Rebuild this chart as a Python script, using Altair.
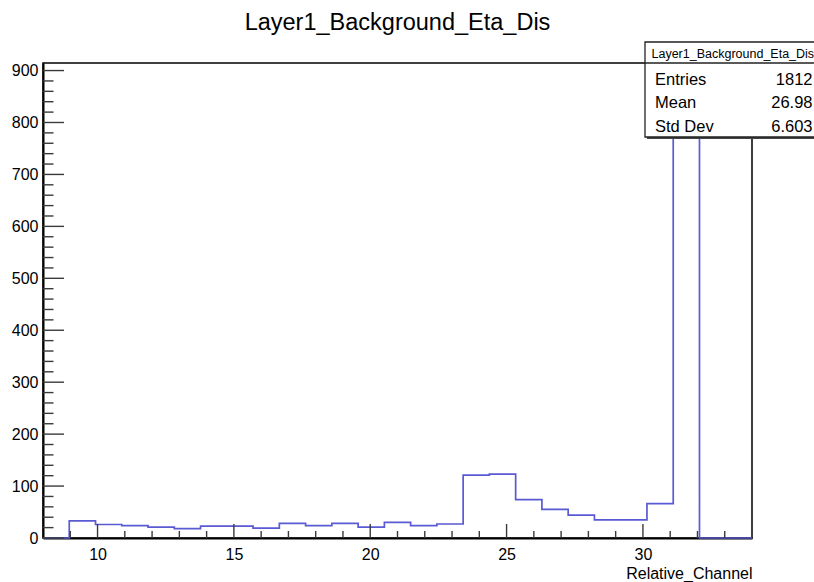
import altair as alt
import pandas as pd

# ---- data ----
chart_title = "Layer1_Background_Eta_Dis"
x_title = "Relative_Channel"
bin_edges = [8.0, 8.963, 9.926, 10.889, 11.852, 12.815, 13.778, 14.741, 15.704,
             16.667, 17.630, 18.593, 19.556, 20.519, 21.481, 22.444, 23.407,
             24.370, 25.333, 26.296, 27.259, 28.222, 29.185, 30.148, 31.111,
             32.074, 33.037, 34.0]
counts = [0, 33, 26, 24, 21, 18, 23, 23, 19, 28, 24, 28, 21, 30, 24, 27,
          121, 123, 74, 55, 44, 35, 35, 66, 871, 0, 0]
x_major = [10, 15, 20, 25, 30]
x_minor = [9, 11, 12, 13, 14, 16, 17, 18, 19, 21, 22, 23, 24, 26, 27, 28, 29, 31, 32, 33]
y_major = [0, 100, 200, 300, 400, 500, 600, 700, 800, 900]
y_minor = [20, 40, 60, 80, 120, 140, 160, 180, 220, 240, 260, 280, 320, 340, 360, 380,
           420, 440, 460, 480, 520, 540, 560, 580, 620, 640, 660, 680, 720, 740, 760, 780,
           820, 840, 860, 880]
stats_header = "Layer1_Background_Eta_Dis"
stats_labels = ["Entries", "Mean", "Std Dev"]
stats_values = ["1812", "26.98", "6.603"]

# ---- layout ----
W, H = 709, 475
FONT = "Liberation Sans"
LINE_COLOR = "#5a5ad4"
y_max = 1.05 * max(counts)

xscale = alt.Scale(domain=[bin_edges[0], bin_edges[-1]], nice=False, zero=False)
yscale = alt.Scale(domain=[0, y_max], nice=False, zero=False)

xaxis = alt.Axis(
    values=x_major, ticks=False, tickSize=0, grid=False, domain=True,
    domainColor="black", domainWidth=2, labelFont=FONT, labelFontSize=16,
    labelColor="black", labelPadding=8, labelFlush=False,
    title=x_title, titleFont=FONT, titleFontSize=16, titleFontWeight="normal",
    titleColor="black", titleAnchor="end", titleAlign="right", titleX=W,
    titleY=40, titleBaseline="alphabetic")
yaxis = alt.Axis(
    values=y_major, format="d", ticks=False, tickSize=0, grid=False, domain=True,
    domainColor="black", domainWidth=2, labelFont=FONT, labelFontSize=16,
    labelColor="black", labelPadding=5, labelFlush=False, title=None)

step_df = pd.DataFrame({"x": bin_edges, "y": counts + [counts[-1]]})

hist = alt.Chart(step_df).mark_line(
    interpolate="step-after", color=LINE_COLOR, strokeWidth=1.7
).encode(
    x=alt.X("x:Q", scale=xscale, axis=xaxis),
    y=alt.Y("y:Q", scale=yscale, axis=yaxis),
)

tick_color = "#3a3a3a"
xmaj = alt.Chart(pd.DataFrame({"x": x_major})).mark_rule(color=tick_color, strokeWidth=1.4).encode(
    x=alt.X("x:Q", scale=xscale, axis=xaxis), y=alt.value(H), y2=alt.value(H - 14))
xmin = alt.Chart(pd.DataFrame({"x": x_minor})).mark_rule(color=tick_color, strokeWidth=1.4).encode(
    x=alt.X("x:Q", scale=xscale, axis=xaxis), y=alt.value(H), y2=alt.value(H - 7))
ymaj = alt.Chart(pd.DataFrame({"y": y_major})).mark_rule(color=tick_color, strokeWidth=1.4).encode(
    y=alt.Y("y:Q", scale=yscale, axis=yaxis), x=alt.value(0), x2=alt.value(21))
ymin = alt.Chart(pd.DataFrame({"y": y_minor})).mark_rule(color=tick_color, strokeWidth=1.4).encode(
    y=alt.Y("y:Q", scale=yscale, axis=yaxis), x=alt.value(0), x2=alt.value(10.5))

one = pd.DataFrame({"a": [0]})

title_mark = alt.Chart(one).mark_text(
    font=FONT, fontSize=23.5, color="black", align="center", baseline="alphabetic"
).encode(x=alt.value(W / 2), y=alt.value(-33), text=alt.value(chart_title))

# stats box
shadow = alt.Chart(one).mark_rect(color="#444444").encode(
    x=alt.value(604), x2=alt.value(790), y=alt.value(-19), y2=alt.value(76))
box = alt.Chart(one).mark_rect(fill="white", stroke="#222222", strokeWidth=1.3).encode(
    x=alt.value(602), x2=alt.value(790), y=alt.value(-21), y2=alt.value(74))
sep = alt.Chart(one).mark_rule(color="#222222", strokeWidth=1.3).encode(
    x=alt.value(602), x2=alt.value(790), y=alt.value(0))
header = alt.Chart(one).mark_text(
    font=FONT, fontSize=12.5, color="black", align="left", baseline="alphabetic"
).encode(x=alt.value(608.5), y=alt.value(-5.5), text=alt.value(stats_header))

stat_layers = []
for i, (lab, val) in enumerate(zip(stats_labels, stats_values)):
    yy = 22 + i * 23.3
    stat_layers.append(alt.Chart(one).mark_text(
        font=FONT, fontSize=16.5, color="black", align="left", baseline="alphabetic"
    ).encode(x=alt.value(612), y=alt.value(yy), text=alt.value(lab)))
    stat_layers.append(alt.Chart(one).mark_text(
        font=FONT, fontSize=16.5, color="black", align="right", baseline="alphabetic"
    ).encode(x=alt.value(769.5), y=alt.value(yy), text=alt.value(val)))

chart = alt.layer(
    hist, xmaj, xmin, ymaj, ymin, title_mark, shadow, box, sep, header, *stat_layers
).properties(
    width=W, height=H, autosize="none",
    padding={"left": 43, "top": 63, "right": 62, "bottom": 44},
    background="white",
).configure_view(stroke="black", strokeWidth=1.5)

chart.save("out.html", embed_options={"renderer": "svg", "actions": False})
